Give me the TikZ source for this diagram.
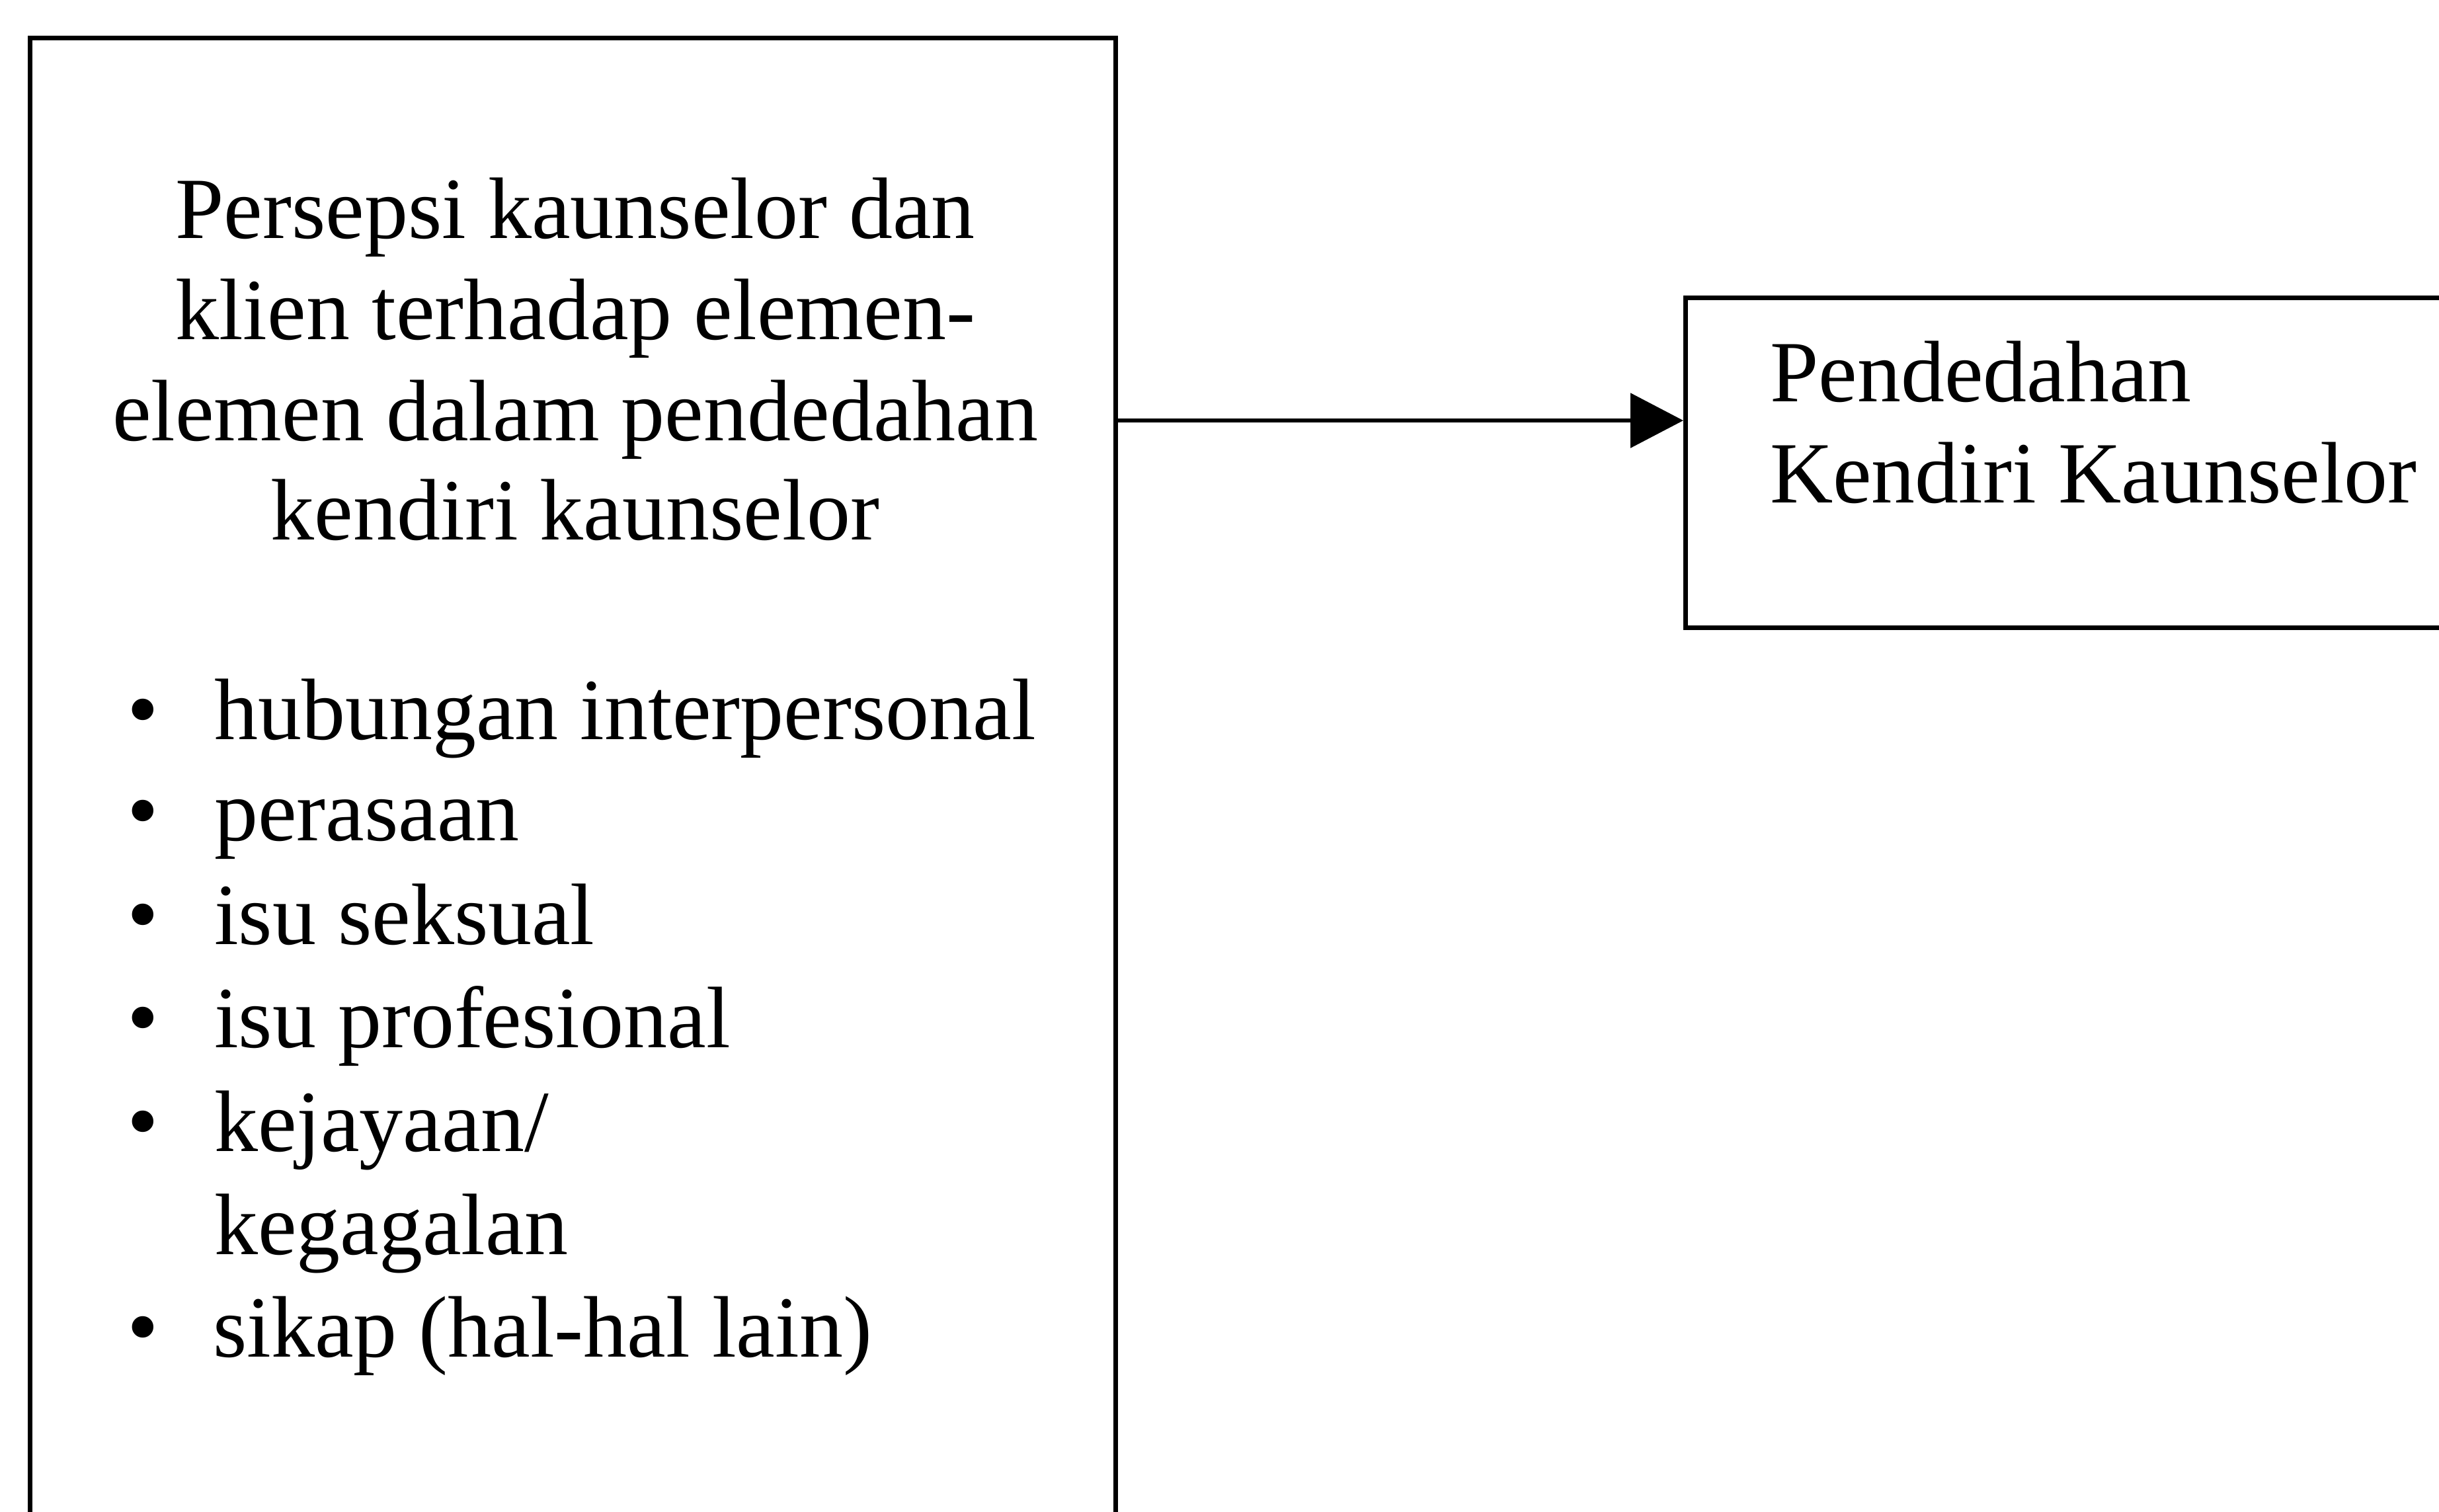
\documentclass[tikz,border=0pt]{standalone}
\usepackage{fontspec}
\setmainfont{Liberation Serif}
\usetikzlibrary{arrows.meta}
\tikzset{
  boxshape/.style={draw, line width=0.65pt, rectangle, inner sep=0pt, anchor=north west},
  txt/.style={inner sep=0pt, anchor=base west, font=\fontsize{13.2pt}{15.3pt}\selectfont},
  ctxt/.style={inner sep=0pt, anchor=base, font=\fontsize{13.2pt}{15.3pt}\selectfont},
  bul/.style={inner sep=0pt, anchor=base, font=\fontsize{13.6pt}{15.3pt}\selectfont},
  link/.style={line width=0.6pt, -{Triangle[length=8pt,width=8.2pt]}}
}
\begin{document}
\begin{tikzpicture}
\clip (0,0) rectangle (368.9pt,-228.6pt);
\fill[white] (0,0) rectangle (368.9pt,-228.6pt);
% boxes
\node[boxshape, minimum width=164.2pt, minimum height=240pt] (lbox) at (4.2pt,-5.4pt) {};
\node[boxshape, minimum width=130pt, minimum height=49.9pt] (rbox) at (254.6pt,-44.7pt) {};
% heading
\node[ctxt] (h1) at (87.0pt,-36.0pt) {Persepsi kaunselor dan};
\node[ctxt] (h2) at (87.0pt,-51.3pt) {klien terhadap elemen-};
\node[ctxt] (h3) at (87.0pt,-66.6pt) {elemen dalam pendedahan};
\node[ctxt] (h4) at (87.0pt,-81.6pt) {kendiri kaunselor};
% bullets
\node[bul] (b1) at (21.6pt,-111.8pt) {•};
\node[txt] (t1) at (32.2pt,-111.8pt) {hubungan interpersonal};
\node[bul] (b2) at (21.6pt,-127.1pt) {•};
\node[txt] (t2) at (32.2pt,-127.1pt) {perasaan};
\node[bul] (b3) at (21.6pt,-142.8pt) {•};
\node[txt] (t3) at (32.2pt,-142.8pt) {isu seksual};
\node[bul] (b4) at (21.6pt,-158.4pt) {•};
\node[txt] (t4) at (32.2pt,-158.4pt) {isu profesional};
\node[bul] (b5) at (21.6pt,-174.1pt) {•};
\node[txt] (t5) at (32.2pt,-174.1pt) {kejayaan/};
\node[txt] (t5b) at (32.2pt,-189.7pt) {kegagalan};
\node[bul] (b6) at (21.6pt,-205.2pt) {•};
\node[txt] (t6) at (32.0pt,-205.2pt) {sikap (hal-hal lain)};
% right text
\node[txt] (r1) at (267.5pt,-60.7pt) {Pendedahan};
\node[txt] (r2) at (267.5pt,-76.0pt) {Kendiri Kaunselor};
% connector
\coordinate (ay) at (0,-63.6pt);
\draw[link] (lbox.east |- ay) -- (rbox.west |- ay);
\end{tikzpicture}
\end{document}
